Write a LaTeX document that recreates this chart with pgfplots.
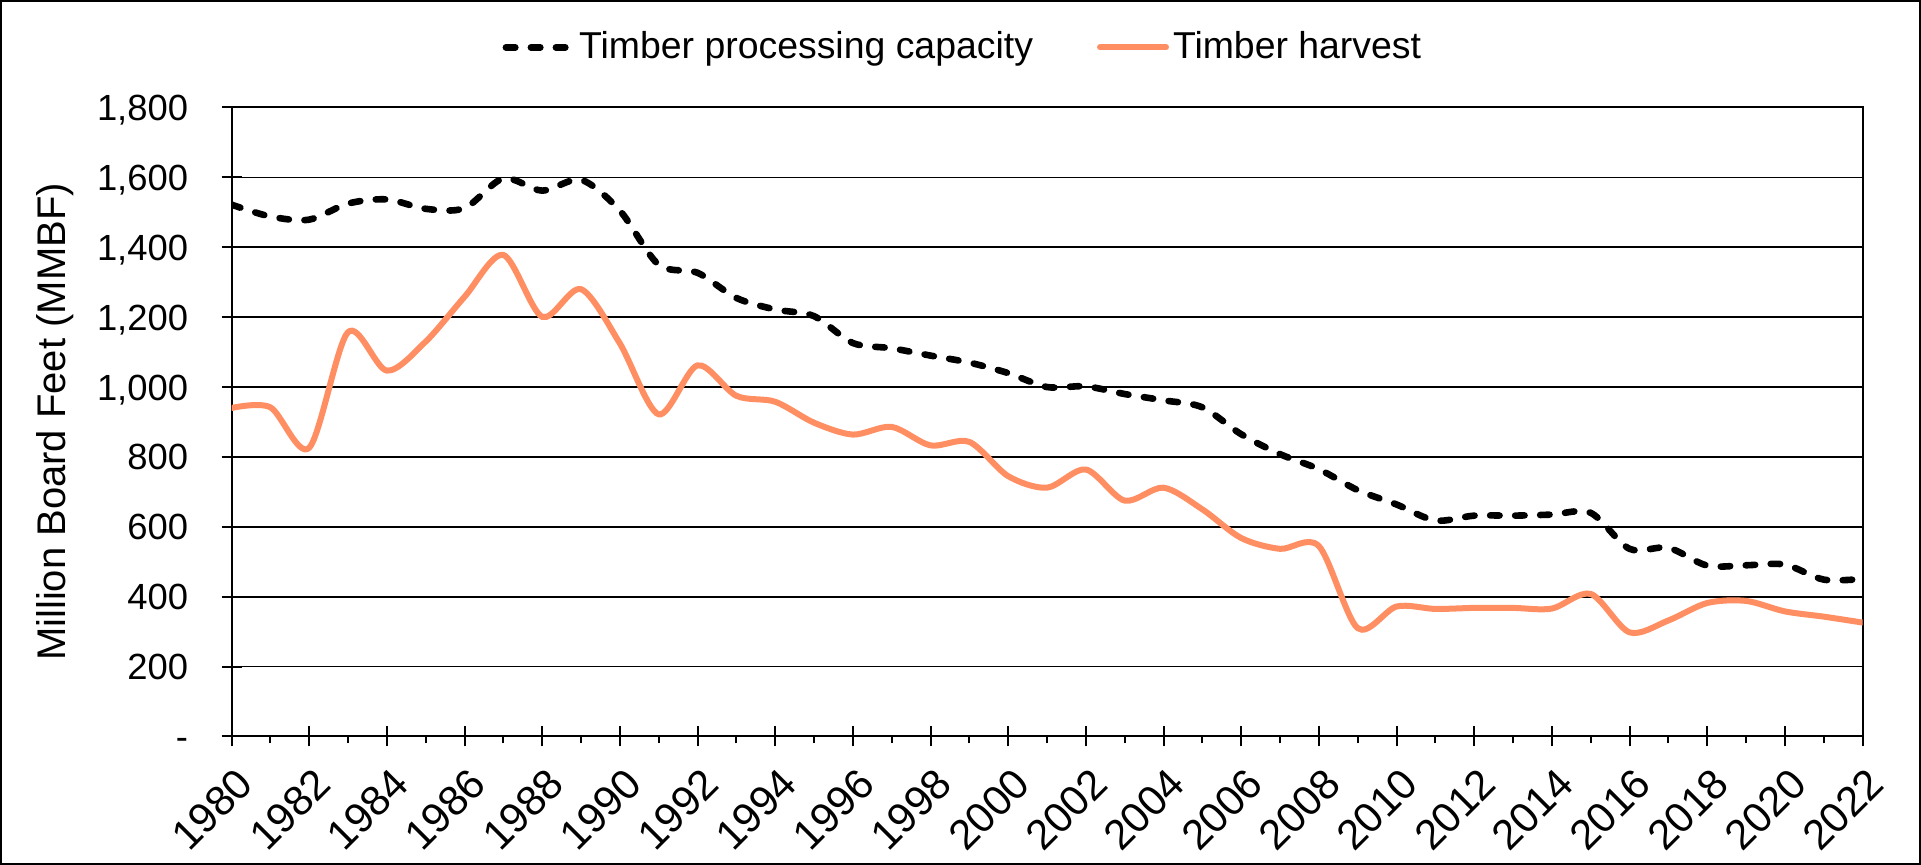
\documentclass[border=0pt]{standalone}
\usepackage{fontspec}
\setmainfont{Liberation Sans}
\usepackage{pgfplots}
\pgfplotsset{compat=1.18}
\definecolor{harv}{RGB}{255,143,98}
\begin{document}
\fontsize{18.2}{21}\selectfont
\begin{tikzpicture}
\useasboundingbox (0,0) rectangle (960.5pt,432.5pt);
\draw[line width=1pt] (0.5pt,0.5pt) rectangle (960pt,432pt);
\begin{axis}[
  at={(115.75pt,64.25pt)}, anchor=south west,
  scale only axis, width=815.5pt, height=314.5pt,
  xmin=1980, xmax=2022, ymin=0, ymax=1800,
  axis lines=box,
  axis line style={black, line width=1pt},
  xtick={1980,1982,...,2022},
  xticklabels={1980,1982,1984,1986,1988,1990,1992,1994,1996,1998,2000,2002,2004,2006,2008,2010,2012,2014,2016,2018,2020,2022},
  ytick={0,200,...,1800},
  yticklabels={-,200,400,600,800,{1,000},{1,200},{1,400},{1,600},{1,800}},
  xtick pos=left, ytick pos=left,
  tick align=center,
  major tick length=10pt,
  tick style={black, line width=1pt},
  extra x ticks={1981,1983,...,2021},
  extra x tick labels={},
  extra x tick style={tick align=outside, major tick length=3.5pt},
  ymajorgrids,
  major grid style={black, line width=0.85pt},
  xticklabel style={xshift=7pt, rotate=45, anchor=east, inner sep=0pt, font=\fontsize{21}{24}\selectfont},
  xticklabel shift=14.75pt,
  yticklabel style={anchor=east, inner sep=0pt, text height=13pt, text depth=0pt},
  yticklabel shift=16.5pt,
  ylabel={Million Board Feet (MMBF)},
  every axis y label/.style={at={(axis description cs:-0.1082,0.5)}, rotate=90, anchor=center, font=\fontsize{20}{24}\selectfont},
  legend columns=2,
  legend cell align=left,
  legend style={draw=none, fill=none, at={(axis description cs:0.449,1.0956)}, anchor=center,
    font=\fontsize{18.7}{22}\selectfont,
    /tikz/every even column/.append style={column sep=30pt}},
  legend image code/.code={\draw[#1] (1pt,0pt) -- (34pt,0pt);},
]
\addplot[black, line width=3.3pt, line cap=round, dash pattern=on 4.7pt off 7.8pt, smooth, tension=0.5] coordinates {
(1980,1522) (1981,1488) (1982,1479) (1983,1525) (1984,1537) (1985,1510) (1986,1512)
(1987,1597) (1988,1562) (1989,1593) (1990,1505) (1991,1350) (1992,1327) (1993,1255)
(1994,1222) (1995,1203) (1996,1126) (1997,1111) (1998,1090) (1999,1070) (2000,1040)
(2001,1000) (2002,1002) (2003,980) (2004,962) (2005,942) (2006,865) (2007,808)
(2008,765) (2009,705) (2010,664) (2011,618) (2012,632) (2013,632) (2014,635)
(2015,640) (2016,537) (2017,540) (2018,489) (2019,490) (2020,492) (2021,449) (2022,451)
};
\addlegendentry{Timber processing capacity}
\addplot[harv, line width=3pt, line cap=round, smooth, tension=0.5] coordinates {
(1980,940) (1981,942) (1982,826) (1983,1157) (1984,1047) (1985,1130) (1986,1258)
(1987,1378) (1988,1201) (1989,1280) (1990,1125) (1991,922) (1992,1062) (1993,975)
(1994,958) (1995,898) (1996,864) (1997,886) (1998,833) (1999,843) (2000,745)
(2001,712) (2002,764) (2003,675) (2004,712) (2005,650) (2006,568) (2007,537)
(2008,545) (2009,310) (2010,372) (2011,365) (2012,368) (2013,368) (2014,366)
(2015,408) (2016,298) (2017,332) (2018,382) (2019,388) (2020,358) (2021,343) (2022,326)
};
\addlegendentry{Timber harvest}
\end{axis}
\end{tikzpicture}
\end{document}
